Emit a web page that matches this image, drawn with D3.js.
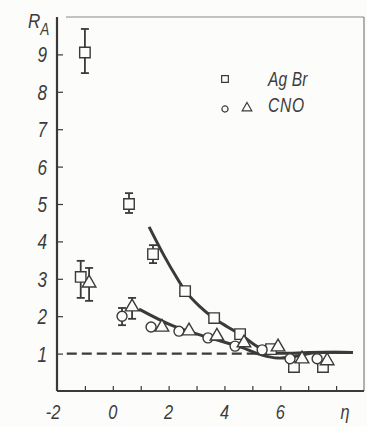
<!DOCTYPE html>
<html><head><meta charset="utf-8">
<script src="https://cdn.jsdelivr.net/npm/d3@7/dist/d3.min.js"></script>
<style>
body{margin:0;background:#fcfcfb;}
text{font-family:"Liberation Sans","DejaVu Sans",sans-serif;font-style:italic;fill:#3c3c3c;}
</style></head>
<body><svg id="c" width="367" height="426"></svg>
<script>
// ---- data ----
const xTickValues = [-1,0,1,2,3,4,5,6,7,8];
const xTickLabels = ["-2","0","2","4","6"];
const xTickLabelPos = [-2,0,2,4,6];
const yTickValues = [1,2,3,4,5,6,7,8,9];

const agbrEta = [-1.0, -1.15, 0.58, 1.44, 2.59, 3.63, 4.56, 5.67, 6.49, 7.53];
const agbrR   = [9.05, 3.05, 5.0, 3.66, 2.67, 1.95, 1.52, 1.12, 0.64, 0.64];
const agbrLo  = [8.5, 2.49, 4.76, 3.42, null, null, null, null, null, null];
const agbrHi  = [9.68, 3.48, 5.29, 3.9, null, null, null, null, null, null];

const cnoCircEta = [0.33, 1.37, 2.37, 3.41, 4.38, 5.35, 6.35, 7.32];
const cnoCircR   = [2.0, 1.71, 1.6, 1.42, 1.2, 1.1, 0.86, 0.86];
const cnoCircLo  = [1.76, null, null, null, null, null, null, null];
const cnoCircHi  = [2.22, null, null, null, null, null, null, null];

const cnoTriEta = [-0.85, 0.69, 1.76, 2.73, 3.73, 4.7, 5.92, 6.78, 7.68];
const cnoTriR   = [2.86, 2.22, 1.68, 1.58, 1.44, 1.26, 1.15, 0.83, 0.78];
const cnoTriLo  = [2.41, 1.93, null, null, null, null, null, null, null];
const cnoTriHi  = [3.29, 2.49, null, null, null, null, null, null, null];

const agbrFitEta = [1.3, 1.85, 2.3, 2.6, 3.1, 3.6, 4.1, 4.6, 5.2, 5.8, 6.3, 7.0, 8.6];
const agbrFitR   = [4.39, 3.6, 3.02, 2.67, 2.27, 1.96, 1.72, 1.5, 1.18, 1.02, 1.01, 1.03, 1.03];
const cnoFitEta = [0.94, 2.16, 3.38, 4.56, 5.35, 5.92, 6.42, 7.25, 8.6];
const cnoFitR   = [2.19, 1.74, 1.44, 1.18, 0.96, 0.88, 0.91, 1.02, 1.03];
const refEta = [-1.65, 5.3];
const refR = [1, 1];

// ---- drawing ----
const svg = d3.select("#c");
const x = d3.scaleLinear().domain([-2, 9]).range([57, 364]);
const y = d3.scaleLinear().domain([0, 10]).range([391, 17]);
const ink = "#3a3a3a";
const SX = 0.78; // narrow lettering

function label(px, py, str, size, anchor){
  return svg.append("text")
    .attr("transform", `translate(${px},${py}) scale(${SX},1)`)
    .attr("text-anchor", anchor || "start").attr("font-size", size).text(str);
}

// frame
svg.append("line").attr("x1",66).attr("x2",364).attr("y1",17).attr("y2",17).attr("stroke","#8a8a8a").attr("stroke-width",1);
svg.append("line").attr("x1",364).attr("x2",364).attr("y1",17).attr("y2",391).attr("stroke","#666").attr("stroke-width",1);

// axes (ticks inward)
const xAxis = d3.axisTop(x).tickValues(xTickValues).tickSize(5).tickFormat("");
const gx = svg.append("g").attr("transform","translate(0,391)").call(xAxis);
const yAxis = d3.axisRight(y).tickValues(yTickValues).tickSize(6).tickFormat("");
const gy = svg.append("g").attr("transform","translate(57,0)").call(yAxis);
[gx, gy].forEach(g=>{ g.selectAll("line").attr("stroke",ink).attr("stroke-width",1.2); g.select(".domain").attr("stroke",ink).attr("stroke-width",2.2); });
gy.select(".domain").attr("d","M0,17V391");
gx.select(".domain").attr("d","M57,0H364");

// tick labels
yTickValues.forEach(v=>label(47, y(v)+8, String(v), 22, "end"));
xTickLabelPos.forEach((v,i)=>label(x(v)-(i===0?4:0), 419, xTickLabels[i], 21, "middle"));
label(345, 419, "η", 21, "middle");
const ra = svg.append("text").attr("transform","translate(28,28) scale(0.85,1)").attr("font-size",20);
ra.append("tspan").text("R");
ra.append("tspan").attr("dy",7).attr("font-size",16).text("A");

// reference dashed line
const line = d3.line().x(d=>x(d[0])).y(d=>y(d[1]));
svg.append("path").datum(d3.zip(refEta, refR)).attr("d",line).attr("fill","none")
  .attr("stroke",ink).attr("stroke-width",2.2).attr("stroke-dasharray","10,5");

// fit curves
const cline = d3.line().x(d=>x(d[0])).y(d=>y(d[1])).curve(d3.curveCatmullRom.alpha(0.5));
svg.append("path").datum(d3.zip(agbrFitEta, agbrFitR)).attr("d",cline).attr("fill","none").attr("stroke",ink).attr("stroke-width",3);
svg.append("path").datum(d3.zip(cnoFitEta, cnoFitR)).attr("d",cline).attr("fill","none").attr("stroke",ink).attr("stroke-width",3);

// error bars
function errBars(eta, lo, hi){
  const d = eta.map((e,i)=>({e, lo:lo[i], hi:hi[i]})).filter(p=>p.lo!==null);
  const g = svg.append("g").attr("stroke",ink).attr("stroke-width",1.8);
  d.forEach(p=>{
    g.append("line").attr("x1",x(p.e)).attr("x2",x(p.e)).attr("y1",y(p.lo)).attr("y2",y(p.hi));
    g.append("line").attr("x1",x(p.e)-4).attr("x2",x(p.e)+4).attr("y1",y(p.lo)).attr("y2",y(p.lo));
    g.append("line").attr("x1",x(p.e)-4).attr("x2",x(p.e)+4).attr("y1",y(p.hi)).attr("y2",y(p.hi));
  });
}
errBars(agbrEta, agbrLo, agbrHi);
errBars(cnoCircEta, cnoCircLo, cnoCircHi);
errBars(cnoTriEta, cnoTriLo, cnoTriHi);

const sq = d3.symbol().type(d3.symbolSquare).size(110);
const tri = d3.symbol().type(d3.symbolTriangle).size(80);
const circ = d3.symbol().type(d3.symbolCircle).size(78);
function markers(eta, r, sym, dy){
  svg.append("g").selectAll("path").data(d3.zip(eta, r)).enter().append("path")
    .attr("d",sym).attr("transform",d=>`translate(${x(d[0])},${y(d[1])+(dy||0)})`)
    .attr("fill","#fcfcfb").attr("stroke",ink).attr("stroke-width",1.4);
}
markers(agbrEta, agbrR, sq);
markers(cnoCircEta, cnoCircR, circ);
markers(cnoTriEta, cnoTriR, tri, -1);

// legend
const lg = svg.append("g");
lg.append("path").attr("d",d3.symbol().type(d3.symbolSquare).size(45)).attr("transform","translate(225,79)").attr("fill","none").attr("stroke",ink).attr("stroke-width",1.2);
lg.append("path").attr("d",d3.symbol().type(d3.symbolCircle).size(30)).attr("transform","translate(225,109)").attr("fill","none").attr("stroke",ink).attr("stroke-width",1.2);
lg.append("path").attr("d",d3.symbol().type(d3.symbolTriangle).size(40)).attr("transform","translate(247,108)").attr("fill","none").attr("stroke",ink).attr("stroke-width",1.2);
const ag = label(268, 86, "", 20);
ag.append("tspan").text("Ag");
ag.append("tspan").attr("dx",6).text("Br");
label(268, 112, "CNO", 20).attr("letter-spacing",1);
</script></body></html>
